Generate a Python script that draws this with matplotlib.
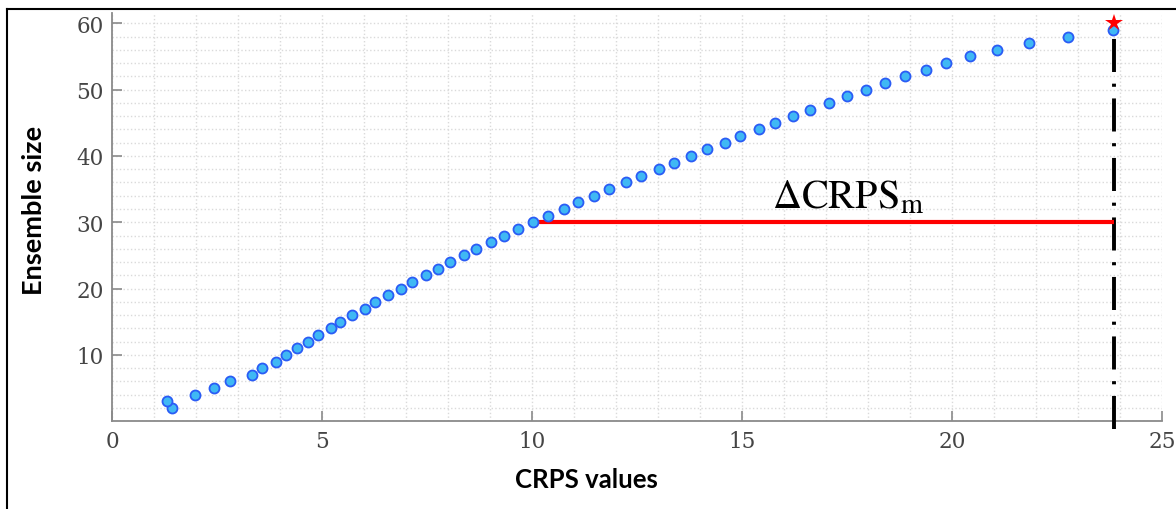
import matplotlib
matplotlib.use("Agg")
import matplotlib.pyplot as plt
from matplotlib.lines import Line2D
from matplotlib.ticker import MultipleLocator

# CRPS value obtained for each ensemble size
ensemble_size = list(range(2, 60))
crps_values = [1.44, 1.32, 1.98, 2.42, 2.80, 3.34, 3.56, 3.90, 4.15, 4.41,
               4.67, 4.90, 5.21, 5.42, 5.71, 6.03, 6.27, 6.58, 6.88, 7.15,
               7.48, 7.75, 8.05, 8.37, 8.67, 9.02, 9.33, 9.67, 10.02, 10.37,
               10.75, 11.09, 11.48, 11.84, 12.23, 12.60, 13.02, 13.38, 13.79, 14.16,
               14.59, 14.96, 15.40, 15.79, 16.22, 16.63, 17.06, 17.50, 17.95, 18.40,
               18.89, 19.37, 19.86, 20.42, 21.06, 21.83, 22.76, 23.84]

# full-ensemble reference point and the chosen ensemble size
full_size = 60
full_crps = 23.86
chosen_size = 30
chosen_crps = 10.02

x_ticks = [0, 5, 10, 15, 20, 25]
y_ticks = [10, 20, 30, 40, 50, 60]

plt.rcParams["mathtext.fontset"] = "stix"

fig = plt.figure(figsize=(11.76, 5.10), dpi=100)
ax = fig.add_axes([112 / 1176, 1 - 422.3 / 510, 1050 / 1176, 408.3 / 510])

ax.set_xlim(0, 25)
ax.set_ylim(0, 61.55)
ax.set_xticks(x_ticks)
ax.set_yticks(y_ticks)
ax.xaxis.set_minor_locator(MultipleLocator(1))
ax.yaxis.set_minor_locator(MultipleLocator(2))

ax.grid(True, which="both", linestyle=":", color="#dadada", linewidth=1.0)
ax.set_axisbelow(True)

for side in ("top", "right"):
    ax.spines[side].set_visible(False)
for side in ("left", "bottom"):
    ax.spines[side].set_color("#8a8a8a")
    ax.spines[side].set_linewidth(1.3)

ax.tick_params(which="major", direction="in", length=7, width=1.2, color="#8a8a8a",
               labelsize=15.5, labelcolor="#454545", pad=6)
ax.tick_params(which="minor", length=0)
for lab in ax.get_xticklabels() + ax.get_yticklabels():
    lab.set_family("DejaVu Serif")

# dash-dot marker at the full ensemble CRPS
ax.plot([full_crps, full_crps], [-1.1, full_size - 1], color="black", linewidth=2.8,
        linestyle=(0, (8.5, 3, 0.8, 3)), clip_on=False, zorder=3)

# CRPS difference for the chosen ensemble size
ax.plot([chosen_crps, full_crps], [chosen_size, chosen_size], color="red",
        linewidth=3.0, solid_capstyle="butt", zorder=3)

ax.plot(crps_values, ensemble_size, linestyle="none", marker="o", markersize=7.2,
        markerfacecolor="#3fb8f4", markeredgecolor="#2a5cf5", markeredgewidth=1.3,
        zorder=4)

ax.plot([full_crps], [full_size], linestyle="none", marker="*", markersize=13,
        color="red", markeredgewidth=0, zorder=5, clip_on=False)

ax.text(15.71, 32.26, r"$\Delta\mathrm{CRPS}_{\mathrm{m}}$", fontsize=29,
        color="black", ha="left", va="baseline")

ax.set_xlabel("CRPS values", fontsize=18.5, fontweight="bold", family="Lato")
ax.set_ylabel("Ensemble size", fontsize=19.5, fontweight="bold", family="Lato")
ax.xaxis.set_label_coords((586 - 112) / 1050, -(480 - 422.3) / 408.3)
ax.yaxis.set_label_coords((34 - 112) / 1050, (422.3 - 210) / 408.3)
ax.xaxis.label.set_va("center")
ax.yaxis.label.set_va("center")

# frame lines around the figure
fig.add_artist(Line2D([7 / 1176, 7 / 1176], [0, 1 - 10 / 510], color="black",
                      linewidth=1.5, transform=fig.transFigure))
fig.add_artist(Line2D([7 / 1176, 1], [1 - 10 / 510, 1 - 10 / 510], color="black",
                      linewidth=1.5, transform=fig.transFigure))

fig.savefig("out.png", dpi=100)
